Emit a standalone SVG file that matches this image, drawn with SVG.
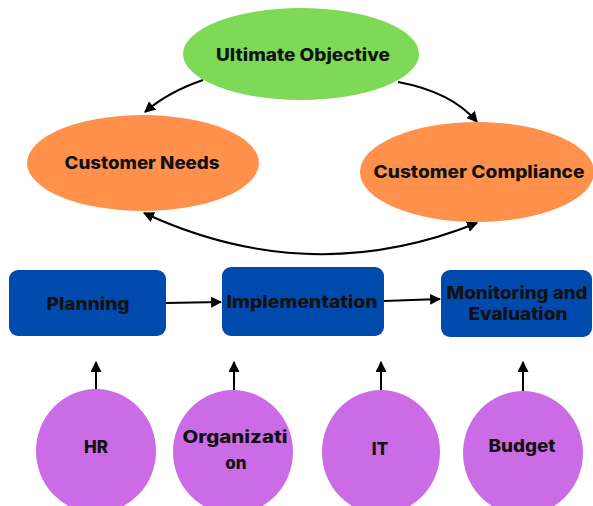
<svg xmlns="http://www.w3.org/2000/svg" width="593" height="506" viewBox="0 0 593 506">
  <style>
    .lbl { font-family: "Inter", "Open Sans", "Liberation Sans", sans-serif; font-weight: 800; font-size: 17px; fill: #111; text-anchor: middle; }
    .goal { fill: #7ed957; }
    .need { fill: #ff914d; }
    .step { fill: #004aad; }
    .res { fill: #cb6ce6; }
    .conn { fill: none; stroke: #000; stroke-width: 2; }
  </style>
  <defs>
    <marker id="ah" viewBox="0 0 10 10" refX="9" refY="5" markerWidth="5.5" markerHeight="5.5" orient="auto-start-reverse" markerUnits="strokeWidth">
      <path d="M0,0 L10,5 L0,10 z" fill="#000"/>
    </marker>
  </defs>
  <rect width="593" height="506" fill="#fff"/>

  <g id="connectors">
    <path class="conn" d="M203,80 Q168,92 145,112" marker-end="url(#ah)"/>
    <path class="conn" d="M398,82 Q452,92 477,122" marker-end="url(#ah)"/>
    <path class="conn" d="M144,213 Q310,290 477,223" marker-start="url(#ah)" marker-end="url(#ah)"/>
    <path class="conn" d="M166,303 L221,302" marker-end="url(#ah)"/>
    <path class="conn" d="M384,301 L440,299" marker-end="url(#ah)"/>
    <path class="conn" d="M96,390 L96,362" marker-end="url(#ah)"/>
    <path class="conn" d="M234,391 L234,362" marker-end="url(#ah)"/>
    <path class="conn" d="M381,391 L381,362" marker-end="url(#ah)"/>
    <path class="conn" d="M523,392 L523,362" marker-end="url(#ah)"/>
  </g>

  <g id="ultimate-objective">
    <ellipse class="goal" cx="301" cy="54" rx="118" ry="46"/>
    <text class="lbl" x="303" y="61" textLength="174" lengthAdjust="spacingAndGlyphs">Ultimate Objective</text>
  </g>
  <g id="customer-needs">
    <ellipse class="need" cx="143" cy="163" rx="116" ry="48"/>
    <text class="lbl" x="142" y="169" textLength="155" lengthAdjust="spacingAndGlyphs">Customer Needs</text>
  </g>
  <g id="customer-compliance">
    <ellipse class="need" cx="477" cy="172" rx="117" ry="50"/>
    <text class="lbl" x="479" y="178" textLength="211" lengthAdjust="spacingAndGlyphs">Customer Compliance</text>
  </g>

  <g id="planning">
    <rect class="step" x="9" y="270" width="157" height="66" rx="9"/>
    <text class="lbl" x="88" y="310" textLength="83" lengthAdjust="spacingAndGlyphs">Planning</text>
  </g>
  <g id="implementation">
    <rect class="step" x="222" y="267" width="162" height="69" rx="9"/>
    <text class="lbl" x="302" y="308" textLength="151" lengthAdjust="spacingAndGlyphs">Implementation</text>
  </g>
  <g id="monitoring">
    <rect class="step" x="441" y="270" width="151" height="67" rx="9"/>
    <text class="lbl" x="517" y="299" textLength="141" lengthAdjust="spacingAndGlyphs">Monitoring and</text>
    <text class="lbl" x="518" y="320" textLength="99" lengthAdjust="spacingAndGlyphs">Evaluation</text>
  </g>

  <g id="hr">
    <ellipse class="res" cx="96" cy="451" rx="60" ry="62"/>
    <text class="lbl" x="96" y="453">HR</text>
  </g>
  <g id="organization">
    <ellipse class="res" cx="233" cy="452" rx="60" ry="62"/>
    <text class="lbl" x="235" y="443" textLength="105" lengthAdjust="spacingAndGlyphs">Organizati</text>
    <text class="lbl" x="236" y="469">on</text>
  </g>
  <g id="it">
    <ellipse class="res" cx="381" cy="452" rx="59" ry="62"/>
    <text class="lbl" x="380" y="455">IT</text>
  </g>
  <g id="budget">
    <ellipse class="res" cx="523" cy="453" rx="60" ry="62"/>
    <text class="lbl" x="522" y="452" textLength="67" lengthAdjust="spacingAndGlyphs">Budget</text>
  </g>
</svg>
